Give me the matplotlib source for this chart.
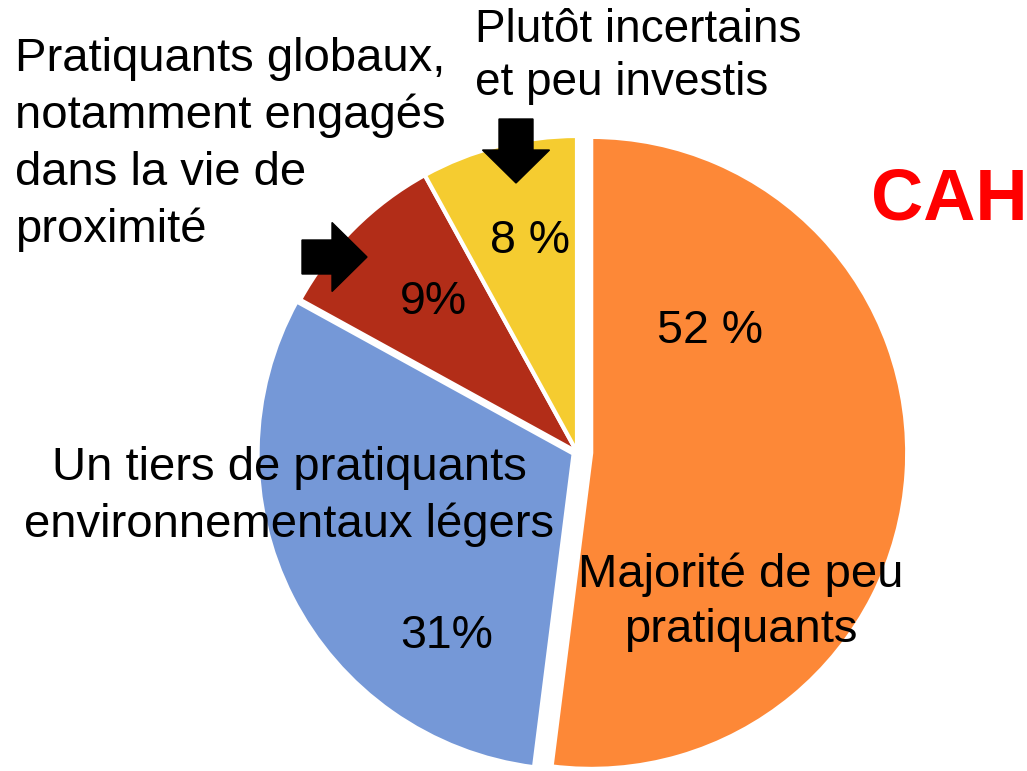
import matplotlib
matplotlib.use("Agg")
import matplotlib.pyplot as plt
from matplotlib.patches import FancyArrow

plt.rcParams['font.family'] = ['Liberation Sans', 'DejaVu Sans']

# data
groupes = ["Majorité de peu pratiquants",
           "Un tiers de pratiquants environnementaux légers",
           "Pratiquants globaux, notamment engagés dans la vie de proximité",
           "Plutôt incertains et peu investis"]
parts = [52, 31, 9, 8]
etiquettes = ["52 %", "31%", "9%", "8 %"]
couleurs = ['#FD8837', '#7598D7', '#B22D18', '#F5CC30']
ecarts = [0.045, 0.012, 0.0, 0.0]

W, H = 1027, 771
CX, CY, R = 577, 452, 316   # pie centre / radius in pixels


def px(x, y):
    # pixel position (from top-left) -> data units of the pie
    return (x - CX) / R, (CY - y) / R


fig = plt.figure(figsize=(W / 100, H / 100), dpi=100)
ax = fig.add_axes([0, 0, 1, 1])

ax.pie(parts, colors=couleurs, startangle=90, counterclock=False,
       explode=ecarts, radius=1,
       wedgeprops=dict(edgecolor='white', linewidth=3))

# pie() resets the limits, so set them afterwards
ax.set_xlim(-CX / R, (W - CX) / R)
ax.set_ylim(-(H - CY) / R, CY / R)
ax.axis('off')

# percentages
pos_pct = [(710, 343), (447, 648), (433, 314), (530, 253)]
for lab, (x, y) in zip(etiquettes, pos_pct):
    ax.text(*px(x, y), lab, fontsize=33.5, ha='center', va='baseline')


def bloc(lignes, x, y0, dy, size, ha='left'):
    for i, l in enumerate(lignes):
        ax.text(*px(x, y0 + i * dy), l, fontsize=size, ha=ha, va='baseline')


bloc(["Pratiquants globaux,", "notamment engagés", "dans la vie de", "proximité"],
     15, 71, 57, 34)
bloc(["Plutôt incertains", "et peu investis"], 475, 42, 53, 33)
bloc(["Un tiers de pratiquants", "environnementaux légers"], 289, 480, 57, 34, ha='center')
bloc(["Majorité de peu", "pratiquants"], 741, 587, 55, 34, ha='center')

ax.text(*px(871, 219), "CAH", fontsize=52, fontweight='bold', color='#FF0000',
        ha='left', va='baseline')

# arrows
x0, y0 = px(516, 119)
ax.add_patch(FancyArrow(x0, y0, 0, -64 / R, width=34 / R, head_width=67 / R,
                        head_length=33 / R, length_includes_head=True,
                        color='black', zorder=5))
x0, y0 = px(302, 257)
ax.add_patch(FancyArrow(x0, y0, 65 / R, 0, width=34 / R, head_width=69 / R,
                        head_length=35 / R, length_includes_head=True,
                        color='black', zorder=5))

fig.savefig("out.png", dpi=100)
